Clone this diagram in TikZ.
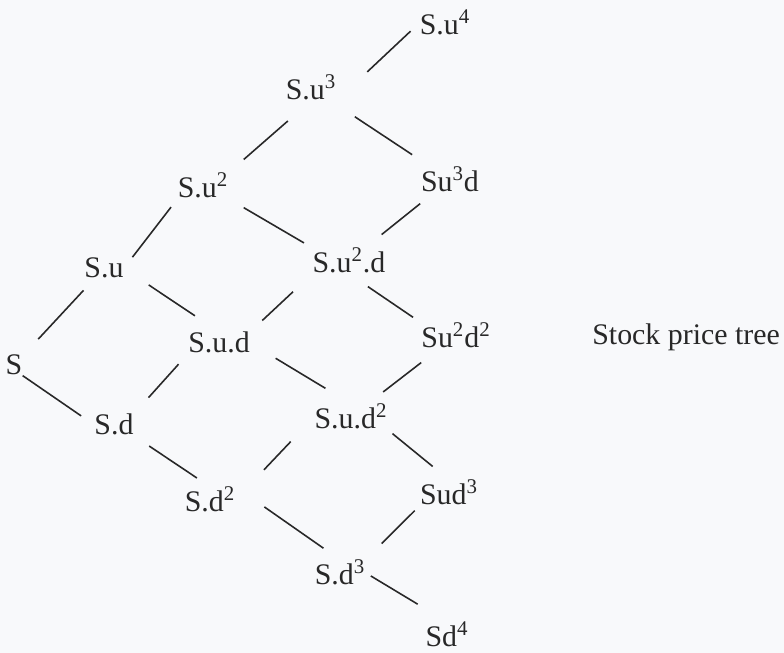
\documentclass[tikz,border=0pt]{standalone}
\usepackage{fontspec}
\setmainfont{Liberation Serif}
\usepackage{tikz}
\definecolor{paper}{RGB}{248,249,251}
\definecolor{ink}{RGB}{40,40,40}

\begin{document}
\begin{tikzpicture}[every node/.style={font=\fontsize{17}{20}\selectfont, text=ink, inner sep=0pt, anchor=base},
	br/.style={draw=ink, line width=0.9pt}]
	\fill[paper] (0,0) rectangle (15.68,13.06);
	\useasboundingbox (0,0) rectangle (15.68,13.06);
	\node (s) at (0.28,5.56) {S};
	\node (su) at (2.08,7.50) {S.u};
	\node (sd) at (2.28,4.36) {S.d};
	\node (su2) at (4.06,9.10) {S.u\textsuperscript{2}};
	\node (sud) at (4.38,6.00) {S.u.d};
	\node (sd2) at (4.20,2.82) {S.d\textsuperscript{2}};
	\node (su3) at (6.22,11.06) {S.u\textsuperscript{3}};
	\node (su2d) at (6.98,7.60) {S.u\textsuperscript{2}.d};
	\node (sud2) at (7.02,4.48) {S.u.d\textsuperscript{2}};
	\node (sd3) at (6.80,1.36) {S.d\textsuperscript{3}};
	\node (su4) at (8.90,12.36) {S.u\textsuperscript{4}};
	\node (su3d) at (9.00,9.22) {Su\textsuperscript{3}d};
	\node (su2d2) at (9.12,6.10) {Su\textsuperscript{2}d\textsuperscript{2}};
	\node (sud3) at (8.98,2.96) {Sud\textsuperscript{3}};
	\node (sd4) at (8.94,0.12) {Sd\textsuperscript{4}};
	\node[anchor=base west] (title) at (11.84,6.16) {Stock price tree};
	% up moves
	\draw[br, shorten <=13pt, shorten >=9pt] (s) -- (su);
	\draw[br, shorten <=8pt, shorten >=6pt] (su.east) -- (su2.south west);
	\draw[br, shorten <=12.5pt, shorten >=8pt] (sd.north east) -- (sud.south west);
	\draw[br, shorten <=11.5pt, shorten >=17.5pt] (su2.north east) -- (su3.south);
	\draw[br, shorten <=9.5pt, shorten >=15pt] (sud.north east) -- (su2d.south west);
	\draw[br, shorten <=23.5pt, shorten >=19.5pt] (sd2.east) -- (sud2.west);
	\draw[br, shorten <=24pt, shorten >=7pt] (su3.south east) -- (su4.west);
	\draw[br, shorten <=12pt, shorten >=10pt] (su2d) -- (su3d);
	\draw[br, shorten <=11pt, shorten >=13pt] (sud2) -- (su2d2);
	\draw[br, shorten <=13pt, shorten >=4pt] (sd3.north east) -- (sud3.south west);
	% down moves
	\draw[br, shorten >=9pt] (s.south east) -- (sd.west);
	\draw[br, shorten <=17pt, shorten >=16.5pt] (su.east) -- (sud.north);
	\draw[br, shorten <=10.5pt, shorten >=9pt] (sd.south east) -- (sd2.north);
	\draw[br, shorten <=10pt, shorten >=5.5pt] (su2.south east) -- (su2d.north west);
	\draw[br, shorten <=17pt, shorten >=17pt] (sud.east) -- (sud2.north);
	\draw[br, shorten <=20pt, shorten >=11.5pt] (sd2.north east) -- (sd3.north);
	\draw[br, shorten <=16.5pt, shorten >=12.5pt] (su3) -- (su3d);
	\draw[br, shorten <=13pt, shorten >=5.5pt] (su2d.south) -- (su2d2.north west);
	\draw[br, shorten <=3.5pt, shorten >=12pt] (sud2.south east) -- (sud3.north);
	\draw[br, shorten <=3.5pt, shorten >=19.5pt] (sd3.east) -- (sd4.north);
\end{tikzpicture}
\end{document}
